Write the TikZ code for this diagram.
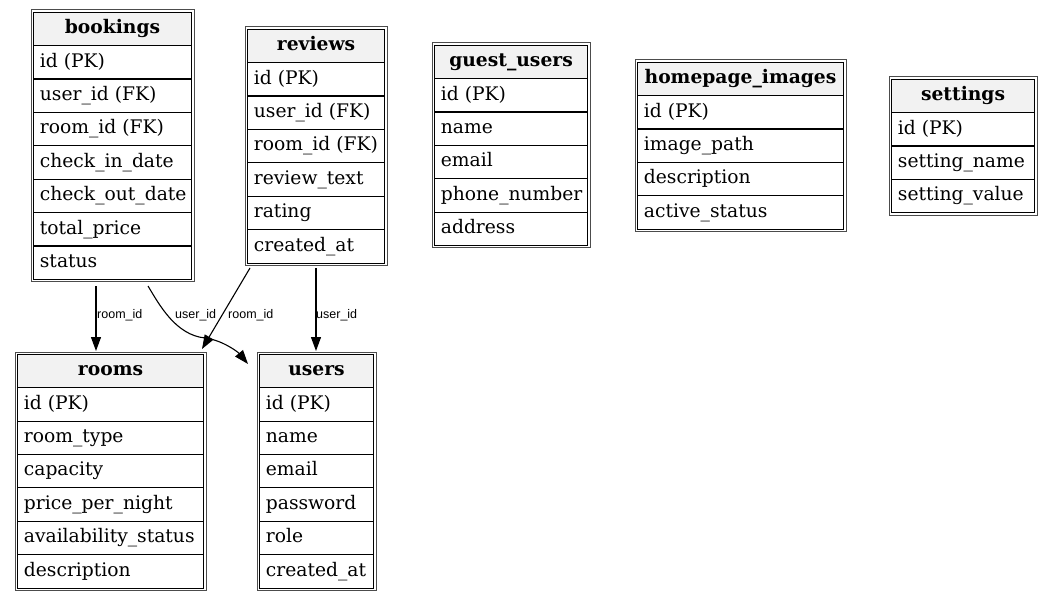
\documentclass[tikz,border=0pt]{standalone}
\usepackage{fontspec}
\setmainfont{DejaVu Serif}
\newfontfamily\lblfont{Liberation Sans}
\usetikzlibrary{arrows.meta,calc}
\definecolor{hdrgray}{HTML}{F2F2F2}
\tikzset{
  x=1bp,y=-1bp,
  tblouter/.style={draw=black!70,line width=1bp},
  cell/.style={draw=black,line width=1.1bp,inner sep=0,minimum height=33.4bp,anchor=north west,fill=white},
  hdr/.style={cell,fill=hdrgray},
  hdrtext/.style={font=\fontsize{18.7bp}{20bp}\selectfont\bfseries,inner sep=0,text height=13.5bp,text depth=4bp},
  rowtext/.style={anchor=west,font=\fontsize{18.7bp}{20bp}\selectfont,inner sep=0,text height=13.5bp,text depth=4bp},
  fk/.style={-{Triangle[length=14bp,width=10bp]},line width=1.1bp},
  fklabel/.style={font=\lblfont\fontsize{12.5bp}{13bp}\selectfont,inner sep=1bp}
}
\newcommand\dbtable[6]{%
  \pgfmathsetmacro\tblw{#3-#2-3.4}%
  \node[hdr,minimum width=\tblw bp] (#1-h) at (#2+1.7,#4+1.7) {};
  \node[hdrtext] (#1-ht) at (#1-h.center) {#5};
  \foreach \r [count=\i] in {#6} {
    \node[cell,minimum width=\tblw bp] (#1-\i) at (#2+1.7,#4+1.7+\i*33.4) {};
    \node[rowtext] (#1-\i t) at ($(#1-\i.west)+(7,0)$) {\r};
    \xdef\lastrow{\i}
  }
  \draw[tblouter] ($(#1-h.north west)+(-1.7,-1.7)$) rectangle ($(#1-\lastrow.south east)+(1.7,1.7)$);
}
\begin{document}
\begin{tikzpicture}
\fill[white] (0,0) rectangle (1051,600);
\useasboundingbox (0,0) rectangle (1051,600);

\dbtable{bookings}{31}{193}{10}{bookings}{id (PK),user\_id (FK),room\_id (FK),check\_in\_date,check\_out\_date,total\_price,status}
\dbtable{reviews}{245}{386}{27}{reviews}{id (PK),user\_id (FK),room\_id (FK),review\_text,rating,created\_at}
\dbtable{guest}{432}{589}{43}{guest\_users}{id (PK),name,email,phone\_number,address}
\dbtable{homepage}{635}{845}{60}{homepage\_images}{id (PK),image\_path,description,active\_status}
\dbtable{settings}{889}{1036}{77}{settings}{id (PK),setting\_name,setting\_value}
\dbtable{rooms}{15}{205}{352}{rooms}{id (PK),room\_type,capacity,price\_per\_night,availability\_status,description}
\dbtable{users}{257}{375}{352}{users}{id (PK),name,email,password,role,created\_at}

% connector end points
\coordinate (b-room) at (96,286);
\coordinate (rooms-in1) at (96,351);
\coordinate (b-user) at (148,286);
\coordinate (users-in1) at (248,364);
\coordinate (r-room) at (250,268);
\coordinate (rooms-in2) at (202,349);
\coordinate (r-user) at (316,268);
\coordinate (users-in2) at (316,351);

\draw[fk] (b-room) -- (rooms-in1);
\node[fklabel,anchor=west] (l1) at (96,315) {room\_id};

\draw[fk] (b-user) .. controls (160,306) and (176,335) .. (205,338)
                   .. controls (222,340) and (238,352) .. (users-in1);
\node[fklabel,anchor=west] (l2) at (174,315) {user\_id};

\draw[fk] (r-room) -- (rooms-in2);
\node[fklabel,anchor=west] (l3) at (227,315) {room\_id};

\draw[fk] (r-user) -- (users-in2);
\node[fklabel,anchor=west] (l4) at (315,315) {user\_id};
\end{tikzpicture}
\end{document}
